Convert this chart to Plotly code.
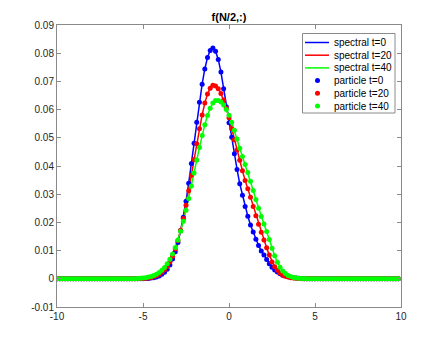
import numpy as np
import plotly.graph_objects as go

# grid: N points on [-10, 10), only the middle part is non zero
N = 128
x = np.linspace(-10, 10, N, endpoint=False)
first = 30  # index of x = -5.3125

spectral_t0 = [
    0.00001, 0.00002, 0.00004, 0.00008, 0.00014, 0.00024, 0.0004, 0.00064, 0.0010, 0.0016,
    0.0023, 0.0034, 0.0049, 0.0070, 0.0096, 0.0129, 0.0170, 0.0218, 0.0275, 0.0339,
    0.0409, 0.0481, 0.0555, 0.0626, 0.0690, 0.0744, 0.0785, 0.0810, 0.0818,
    0.0807, 0.0778, 0.0733, 0.0674, 0.0610, 0.0553, 0.0502, 0.0443, 0.0388, 0.0337,
    0.0296, 0.0256, 0.0222, 0.0191, 0.0166, 0.0140, 0.0118, 0.0099, 0.0084, 0.0068,
    0.0053, 0.0041, 0.0031, 0.0024, 0.0018, 0.0013, 0.0010, 0.0007, 0.0005, 0.00035,
    0.00024, 0.00016, 0.0001, 0.00006, 0.00004, 0.00002, 0.00001, 0.00001,
]
spectral_t20 = [
    0.00004, 0.00007, 0.0001, 0.0002, 0.0003, 0.0005, 0.0007, 0.0011, 0.0016, 0.0023,
    0.0032, 0.0044, 0.0060, 0.0080, 0.0106, 0.0136, 0.0172, 0.0214, 0.0261, 0.0312,
    0.0367, 0.0423, 0.0479, 0.0532, 0.0581, 0.0623, 0.0655, 0.0676, 0.0686,
    0.0684, 0.0674, 0.0657, 0.0634, 0.0605, 0.0571, 0.0532, 0.0493, 0.0457, 0.0420,
    0.0383, 0.0349, 0.0319, 0.0289, 0.0256, 0.0224, 0.0193, 0.0165, 0.0138, 0.0110,
    0.0084, 0.0060, 0.0043, 0.0030, 0.0021, 0.0013, 0.0009, 0.0006, 0.0004, 0.00026,
    0.00017, 0.0001, 0.00006, 0.00004, 0.00002, 0.00001, 0.0, 0.0,
]
spectral_t40 = [
    0.0001, 0.0002, 0.0003, 0.0004, 0.0006, 0.0008, 0.0012, 0.0016, 0.0022, 0.0030,
    0.0040, 0.0053, 0.0069, 0.0088, 0.0111, 0.0138, 0.0169, 0.0204, 0.0243, 0.0285,
    0.0329, 0.0375, 0.0421, 0.0466, 0.0508, 0.0546, 0.0579, 0.0605, 0.0623,
    0.0632, 0.0632, 0.0627, 0.0616, 0.0600, 0.0580, 0.0555, 0.0527, 0.0496, 0.0463,
    0.0434, 0.0405, 0.0377, 0.0346, 0.0313, 0.0281, 0.0250, 0.0221, 0.0194, 0.0168,
    0.0139, 0.0108, 0.0082, 0.0059, 0.0041, 0.0028, 0.0019, 0.0012, 0.0008, 0.0005,
    0.0003, 0.0002, 0.00012, 0.00007, 0.00004, 0.00002, 0.00001, 0.00001,
]

x_ticks = [-10, -5, 0, 5, 10]
x_ticktext = ["-10", "-5", "0", "5", "10"]
y_ticks = [-0.01, 0, 0.01, 0.02, 0.03, 0.04, 0.05, 0.06, 0.07, 0.08, 0.09]
y_ticktext = ["-0.01", "0", "0.01", "0.02", "0.03", "0.04", "0.05", "0.06", "0.07", "0.08", "0.09"]

times = [0, 20, 40]
series = [spectral_t0, spectral_t20, spectral_t40]
colors = ["#0000ff", "#ff0000", "#00ff00"]


def full(part):
    f = np.zeros(N)
    f[first:first + len(part)] = part
    return f


fig = go.Figure()
for t, y, c in zip(times, series, colors):
    fig.add_trace(go.Scatter(x=x, y=full(y), mode="lines", name=f"spectral t={t}",
                             line=dict(color=c, width=1.5), showlegend=False))
for t, y, c in zip(times, series, colors):
    fig.add_trace(go.Scatter(x=x, y=full(y), mode="markers", name=f"particle t={t}",
                             marker=dict(color=c, size=5), showlegend=False))

axis = dict(showline=True, linecolor="#8a8a8a", linewidth=1, mirror="ticks",
            ticks="inside", ticklen=4, tickcolor="#8a8a8a", showgrid=False,
            zeroline=False, tickfont=dict(size=10, color="#262626"))
fig.update_xaxes(range=[-10, 10], tickvals=x_ticks, ticktext=x_ticktext, **axis)
fig.update_yaxes(range=[-0.01, 0.09], tickvals=y_ticks, ticktext=y_ticktext, **axis)

# compact legend box (plotly's own legend rows are too tall), in plot-area fractions
W, H = 344.0, 282.0   # plot area size in px


def px(dx):
    return dx / W


def py(dy):
    return 1 - dy / H


box_l, box_t, box_r, box_b = 245.5, 8.5, 338.0, 88.0   # relative to plot corner
row0, row_gap = 17.5, 12.7
fig.add_shape(type="rect", xref="paper", yref="paper", x0=px(box_l), x1=px(box_r),
              y0=py(box_b), y1=py(box_t), line=dict(color="#8a8a8a", width=1),
              fillcolor="white", layer="above")
labels = [f"spectral t={t}" for t in times] + [f"particle t={t}" for t in times]
for i, (lab, c) in enumerate(zip(labels, colors + colors)):
    yy = py(row0 + i * row_gap)
    if i < 3:
        fig.add_shape(type="line", xref="paper", yref="paper", x0=px(248), x1=px(272),
                      y0=yy, y1=yy, line=dict(color=c, width=1.5), layer="above")
    else:
        fig.add_shape(type="circle", xref="paper", yref="paper", xsizemode="pixel",
                      ysizemode="pixel", xanchor=px(260.5), yanchor=yy,
                      x0=-2.5, x1=2.5, y0=-2.5, y1=2.5,
                      line=dict(width=0), fillcolor=c, layer="above")
    fig.add_annotation(text=lab, xref="paper", yref="paper", x=px(274.5), y=yy,
                       xanchor="left", yanchor="middle", showarrow=False,
                       font=dict(size=10, color="#000000"))

# page body adds 8px of margin, so the figure is 8px smaller
fig.update_layout(
    width=435, height=338,
    margin=dict(l=49, r=42, t=17, b=39),
    paper_bgcolor="white", plot_bgcolor="white",
    font=dict(family="Liberation Sans", color="#262626"),
    title=dict(text="<b>f(N/2,:)</b>", x=0.5, xref="paper", y=0.973, yanchor="middle",
               font=dict(size=11, color="#000000")),
    showlegend=False,
)
fig.write_html("out.html")
